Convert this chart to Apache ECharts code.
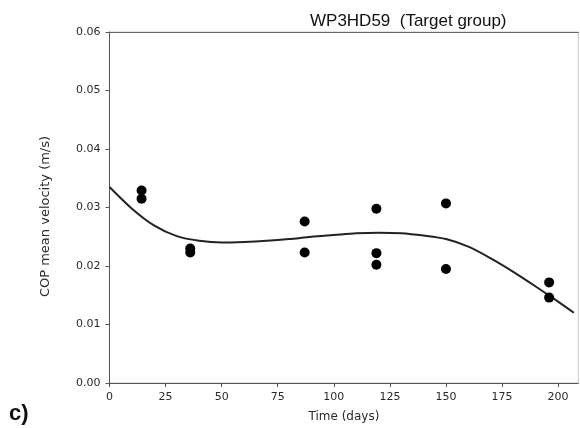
<!DOCTYPE html>
<html>
<head>
<meta charset="utf-8">
<script src="https://cdn.jsdelivr.net/npm/echarts@6/dist/echarts.min.js"></script>
<style>
    html, body { margin: 0; padding: 0; background: #fff; }
    #chart { width: 580px; height: 428px; }
</style>
</head>
<body>
<div id="chart"></div>
<script>
// measured points (day, COP mean velocity)
const pointDays = [14.3, 14.3, 36, 36, 87, 87, 119, 119, 119, 150, 150, 196, 196];
const pointValues = [0.0329, 0.0315, 0.0230, 0.0223, 0.0276, 0.0223, 0.0298, 0.0222, 0.0202, 0.0307, 0.0195, 0.0172, 0.0146];

// fitted curve, every 10 days
const curveDays = [0, 10, 20, 30, 40, 50, 60, 70, 80, 90, 100, 110, 120, 130, 140, 150, 160, 170, 180, 190, 200, 207];
const curveValues = [0.0335, 0.0298, 0.0269, 0.0251, 0.0243, 0.0240, 0.0241, 0.0243, 0.0246, 0.0250, 0.0253, 0.0256, 0.0257, 0.0256, 0.0252, 0.0246, 0.0233, 0.0213, 0.0190, 0.0165, 0.0139, 0.0120];

const xTicks = [0, 25, 50, 75, 100, 125, 150, 175, 200];

const chart = echarts.init(document.getElementById('chart'));
const tickFont = { fontFamily: 'DejaVu Sans', fontSize: 11, color: '#2a2a2a' };

chart.setOption({
    animation: false,
    title: {
        text: 'WP3HD59  (Target group)',
        left: 305,
        top: 8,
        textStyle: { fontFamily: 'Liberation Sans', fontSize: 17, fontWeight: 'normal', color: '#111' }
    },
    grid: {
        left: 109.5,
        right: 1.7,
        top: 32,
        bottom: 43.7,
        show: true,
        borderColor: '#c8c8c8',
        borderWidth: 1
    },
    xAxis: [{
        type: 'value',
        min: 0,
        max: 209,
        interval: 25,
        name: 'Time (days)',
        nameLocation: 'middle',
        nameGap: 28,
        nameTextStyle: { fontFamily: 'DejaVu Sans', fontSize: 12, color: '#2a2a2a' },
        axisLine: { show: true, lineStyle: { color: '#555', width: 1 } },
        axisTick: { show: true, inside: false, length: 4, lineStyle: { color: '#555' } },
        axisLabel: Object.assign({
            margin: 9,
            showMaxLabel: false,
            formatter: v => (xTicks.indexOf(v) >= 0 ? String(v) : '')
        }, tickFont),
        splitLine: { show: false }
    }, {
        type: 'value',
        position: 'top',
        min: 0,
        max: 209,
        axisLine: { show: true, onZero: false, lineStyle: { color: '#666', width: 1 } },
        axisTick: { show: false },
        axisLabel: { show: false },
        splitLine: { show: false }
    }],
    yAxis: {
        type: 'value',
        min: 0,
        max: 0.06,
        interval: 0.01,
        name: 'COP mean velocity (m/s)',
        nameLocation: 'middle',
        nameGap: 57,
        nameTextStyle: { fontFamily: 'DejaVu Sans', fontSize: 13, color: '#2a2a2a', padding: [0, 18, 0, 0] },
        axisLine: { show: true, lineStyle: { color: '#555', width: 1 } },
        axisTick: { show: true, inside: false, length: 4, lineStyle: { color: '#555' } },
        axisLabel: Object.assign({
            margin: 9,
            formatter: v => v.toFixed(2)
        }, tickFont),
        splitLine: { show: false }
    },
    graphic: [{
        type: 'text',
        left: 9,
        top: 403,
        style: { text: 'c)', fontFamily: 'Liberation Sans', fontSize: 22, fontWeight: 'bold', fill: '#111' }
    }],
    series: [{
        type: 'line',
        data: curveDays.map((d, i) => [d, curveValues[i]]),
        smooth: 0.3,
        showSymbol: false,
        lineStyle: { color: '#222', width: 2 },
        z: 2
    }, {
        type: 'scatter',
        data: pointDays.map((d, i) => [d, pointValues[i]]),
        symbolSize: 10,
        itemStyle: { color: '#000', opacity: 1 },
        z: 3
    }]
});
</script>
</body>
</html>
